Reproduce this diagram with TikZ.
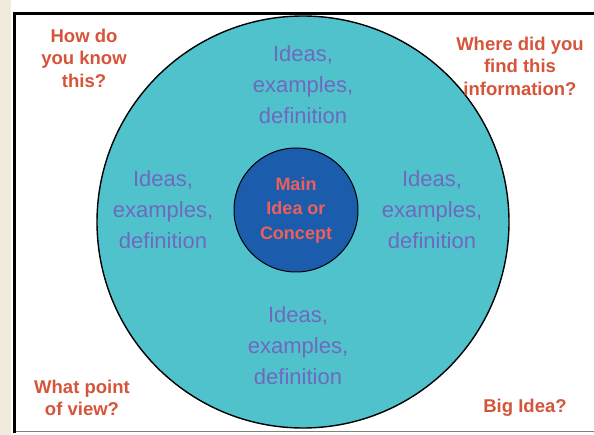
\documentclass[tikz,border=0pt]{standalone}
\usepackage{fontspec}
\setmainfont{Liberation Sans}
\usepackage{tikz}
\usetikzlibrary{positioning}

\definecolor{paper}{RGB}{241,235,222}
\definecolor{ringfill}{RGB}{80,194,204}
\definecolor{corefill}{RGB}{28,92,172}
\definecolor{askred}{RGB}{214,84,58}
\definecolor{corered}{RGB}{236,96,92}
\definecolor{ideaviolet}{RGB}{112,104,192}

\tikzset{
  ring/.style={draw=black, line width=1.4pt, circle, fill=ringfill, minimum size=412pt, inner sep=0pt},
  core/.style={draw=black, line width=1pt, circle, fill=corefill, minimum size=124pt, inner sep=0pt,
               text=corered, font=\fontsize{18}{24.5}\selectfont\bfseries, align=center},
  idea/.style={text=ideaviolet, font=\fontsize{22}{31}\selectfont, align=center, inner sep=0pt},
  ask/.style={text=askred, font=\fontsize{18.5}{22.5}\selectfont\bfseries, align=center, inner sep=0pt}
}

\begin{document}
\begin{tikzpicture}[x=1pt, y=-1pt]
        \useasboundingbox (0,0) rectangle (594,435);
        % page and frame
        \fill[white] (0,0) rectangle (594,435);
        \fill[paper] (0,0) rectangle (11,435);
        \draw[black!50, line width=1pt] (14,431) -- (594,431);
        \draw[black, line width=3pt] (594,13.5) -- (14,13.5) -- (14,433);

        % circles
        \node[ring] (outer) at (303,222) {};
        \node[core] (main) at (296,210) {Main\\Idea or\\Concept};

        % ideas round the centre
        \node[idea] (ideatop) at (303,85) {Ideas,\\examples,\\definition};
        \node[idea] (idealeft) at (163,210) {Ideas,\\examples,\\definition};
        \node[idea] (idearight) at (432,210) {Ideas,\\examples,\\definition};
        \node[idea] (ideabottom) at (298,346) {Ideas,\\examples,\\definition};

        % questions in the corners
        \node[ask] (howknow) at (84,58) {How do\\you know\\this?};
        \node[ask] (where) at (520,66) {Where did you\\find this\\information?};
        \node[ask] (pointview) at (82,398) {What point\\of view?};
        \node[ask] (bigidea) at (525,408) {Big Idea?};
    \end{tikzpicture}
\end{document}
